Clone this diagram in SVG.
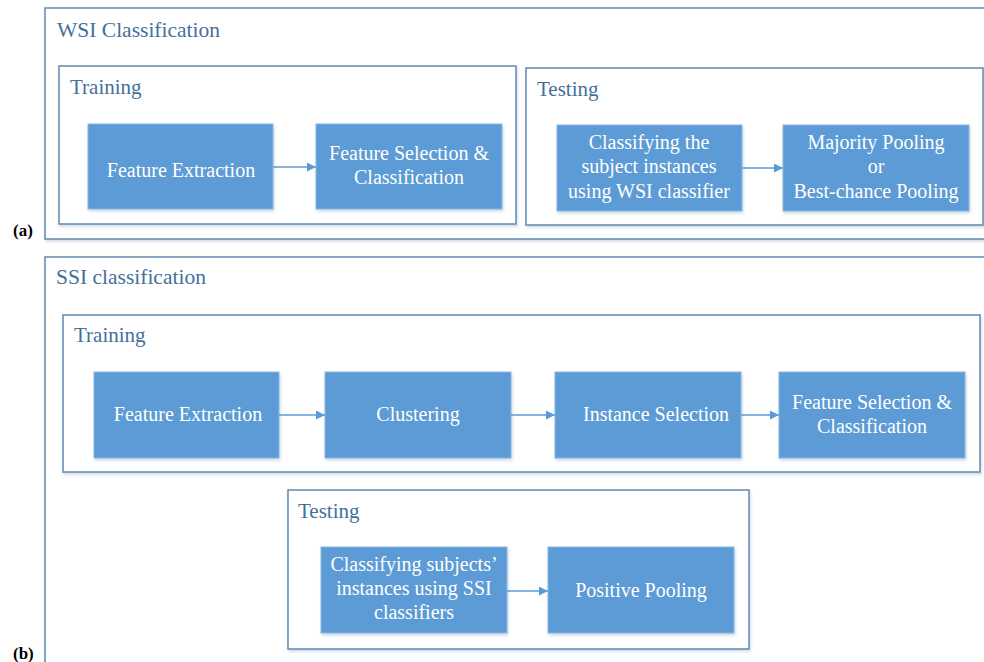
<svg xmlns="http://www.w3.org/2000/svg" width="984" height="662" viewBox="0 0 984 662" font-family="Liberation Serif">
<defs>
<style>
text{font-family:'Liberation Serif','Times New Roman',serif}
.frame{fill:#fff;stroke:#5f89b3;stroke-width:1.5;filter:url(#sh)}
.title{font-size:21.5px;fill:#44709c}
.sub{font-size:21px;fill:#44709c}
.box{fill:#5b9bd5;stroke:#8ab8e2;stroke-width:1;filter:url(#sh)}
.bt{font-size:20px;fill:#fff;text-anchor:middle}
.lab{font-size:17px;font-weight:bold;fill:#000}
.conn line{stroke:#5b9bd5;stroke-width:1.6;marker-end:url(#ah)}
</style>
<filter id="sh" x="-5%" y="-5%" width="110%" height="115%">
<feDropShadow dx="1" dy="2" stdDeviation="1.5" flood-color="#9fb9d3" flood-opacity="0.5"/>
</filter>
<marker id="ah" viewBox="0 0 10 10" refX="10" refY="5" markerWidth="10" markerHeight="9" markerUnits="userSpaceOnUse" orient="auto">
<path d="M0,0 L10,5 L0,10 z" fill="#5b9bd5"/>
</marker>
</defs>

<g id="panel-a">
<rect class="frame" x="45" y="8" width="950" height="231"/>
<text class="title" x="57" y="37">WSI Classification</text>
<text class="lab" x="13" y="236">(a)</text>
</g>
<g id="a-training">
<rect class="frame" x="59" y="66" width="457" height="158"/>
<text class="sub" x="70" y="94">Training</text>
</g>
<g id="a-testing">
<rect class="frame" x="526" y="68" width="457" height="157"/>
<text class="sub" x="537" y="96">Testing</text>
</g>
<g id="a-fe">
<rect class="box" x="88" y="124" width="185" height="85"/>
<text class="bt" x="181" y="177">Feature Extraction</text>
</g>
<g id="a-fs">
<rect class="box" x="316" y="124" width="186" height="85"/>
<text class="bt" x="409" y="160">Feature Selection &amp;</text>
<text class="bt" x="409" y="184">Classification</text>
</g>
<g id="a-cls">
<rect class="box" x="557" y="125" width="185" height="86"/>
<text class="bt" x="649" y="149">Classifying the</text>
<text class="bt" x="649" y="173">subject instances</text>
<text class="bt" x="649" y="198">using WSI classifier</text>
</g>
<g id="a-pool">
<rect class="box" x="783" y="125" width="186" height="86"/>
<text class="bt" x="876" y="149">Majority Pooling</text>
<text class="bt" x="876" y="173">or</text>
<text class="bt" x="876" y="198">Best-chance Pooling</text>
</g>

<g id="panel-b">
<rect class="frame" x="45" y="257" width="950" height="420"/>
<text class="title" x="56" y="284">SSI classification</text>
<text class="lab" x="13" y="659">(b)</text>
</g>
<g id="b-training">
<rect class="frame" x="63" y="315" width="917" height="157"/>
<text class="sub" x="74" y="342">Training</text>
</g>
<g id="b-fe">
<rect class="box" x="94" y="372" width="185" height="86"/>
<text class="bt" x="188" y="421">Feature Extraction</text>
</g>
<g id="b-cl">
<rect class="box" x="325" y="372" width="186" height="86"/>
<text class="bt" x="418" y="421">Clustering</text>
</g>
<g id="b-is">
<rect class="box" x="555" y="372" width="186" height="86"/>
<text class="bt" x="656" y="421">Instance Selection</text>
</g>
<g id="b-fs">
<rect class="box" x="779" y="372" width="186" height="86"/>
<text class="bt" x="872" y="409">Feature Selection &amp;</text>
<text class="bt" x="872" y="433">Classification</text>
</g>
<g id="b-testing">
<rect class="frame" x="288" y="490" width="461" height="159"/>
<text class="sub" x="298" y="518">Testing</text>
</g>
<g id="b-cls">
<rect class="box" x="321" y="547" width="186" height="86"/>
<text class="bt" x="414" y="571">Classifying subjects’</text>
<text class="bt" x="414" y="595">instances using SSI</text>
<text class="bt" x="414" y="619">classifiers</text>
</g>
<g id="b-pool">
<rect class="box" x="548" y="547" width="186" height="86"/>
<text class="bt" x="641" y="597">Positive Pooling</text>
</g>

<g id="connectors" class="conn">
<line x1="273" y1="167" x2="316" y2="167"/>
<line x1="742" y1="168" x2="783" y2="168"/>
<line x1="279" y1="415" x2="325" y2="415"/>
<line x1="511" y1="415" x2="555" y2="415"/>
<line x1="741" y1="415" x2="779" y2="415"/>
<line x1="507" y1="591" x2="548" y2="591"/>
</g>
</svg>
